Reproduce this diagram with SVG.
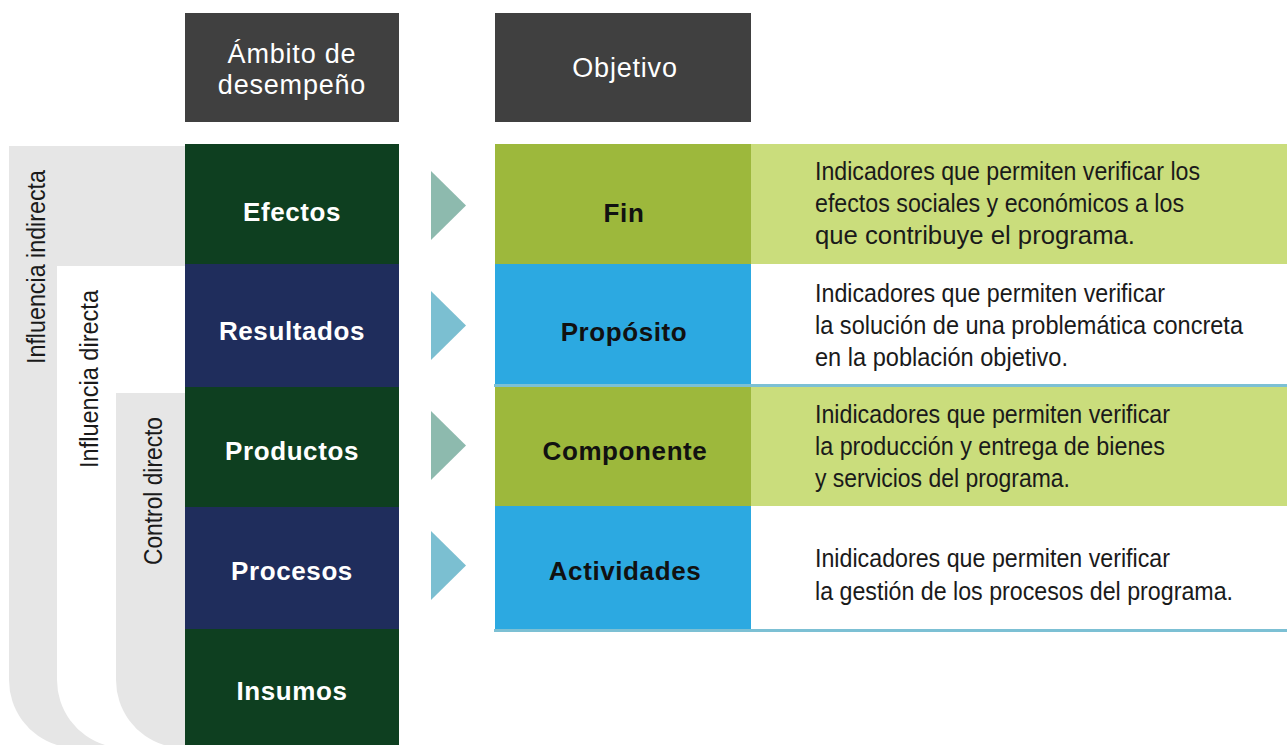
<svg xmlns="http://www.w3.org/2000/svg" width="1287" height="745" viewBox="0 0 1287 745">
<style>
.hdr{fill:#404040}
.ht{font-family:"Liberation Sans",Arial,sans-serif;font-size:27px;fill:#ffffff;text-anchor:middle;letter-spacing:0.8px}
.lbl{font-family:"Liberation Sans",Arial,sans-serif;font-size:26px;font-weight:bold;fill:#ffffff;text-anchor:middle;letter-spacing:0.6px}
.obj{font-family:"Liberation Sans",Arial,sans-serif;font-size:26px;font-weight:bold;fill:#111111;text-anchor:middle;letter-spacing:0.6px}
.desc{font-family:"Liberation Sans",Arial,sans-serif;font-size:25px;fill:#1a1a1a}
.vt{font-family:"Liberation Sans",Arial,sans-serif;font-size:25px;fill:#1a1a1a;text-anchor:middle}
.green{fill:#0E3F20}
.navy{fill:#1F2D5C}
.olive{fill:#9DB83C}
.lgreen{fill:#CADD7C}
.blue{fill:#2CA9E1}
.sep{fill:#7CC0D4}
.triA{fill:#8DBAAE}
.triB{fill:#7BBFD1}
.band{fill:#E6E6E6}
</style>

<g id="bands">
  <path class="band" d="M9,146 L9,680 A68,68 0 0 0 57,745 L185,745 L185,146 Z"/>
  <path fill="#ffffff" d="M57,266 L57,680 A68,68 0 0 0 105,745 L185,745 L185,266 Z"/>
  <path class="band" d="M116,393 L116,680 A68,68 0 0 0 164,745 L185,745 L185,393 Z"/>
  <text class="vt" transform="translate(45,267) rotate(-90)" textLength="194" lengthAdjust="spacingAndGlyphs">Influencia indirecta</text>
  <text class="vt" transform="translate(98,379) rotate(-90)" textLength="178" lengthAdjust="spacingAndGlyphs">Influencia directa</text>
  <text class="vt" transform="translate(162,491) rotate(-90)" textLength="148" lengthAdjust="spacingAndGlyphs">Control directo</text>
</g>

<g id="header-ambito">
  <rect class="hdr" x="185" y="13" width="214" height="109"/>
  <text class="ht" x="292" y="63">Ámbito de</text>
  <text class="ht" x="292" y="94">desempeño</text>
</g>
<g id="header-objetivo">
  <rect class="hdr" x="495" y="13" width="256" height="109"/>
  <text class="ht" x="625" y="77">Objetivo</text>
</g>

<g id="efectos">
  <rect class="green" x="185" y="144" width="214" height="120"/>
  <text class="lbl" x="292" y="221">Efectos</text>
</g>
<g id="resultados">
  <rect class="navy" x="185" y="264" width="214" height="123"/>
  <text class="lbl" x="292" y="340">Resultados</text>
</g>
<g id="productos">
  <rect class="green" x="185" y="387" width="214" height="120"/>
  <text class="lbl" x="292" y="460">Productos</text>
</g>
<g id="procesos">
  <rect class="navy" x="185" y="507" width="214" height="122"/>
  <text class="lbl" x="292" y="580">Procesos</text>
</g>
<g id="insumos">
  <rect class="green" x="185" y="629" width="214" height="116"/>
  <text class="lbl" x="292" y="700">Insumos</text>
</g>

<g id="connectors">
  <polygon class="triA" points="431,171 466,205.5 431,240"/>
  <polygon class="triB" points="431,291 466,325.5 431,360"/>
  <polygon class="triA" points="431,411 466,445.5 431,480"/>
  <polygon class="triB" points="431,531 466,565.5 431,600"/>
</g>

<g id="fin">
  <rect class="olive" x="495" y="144" width="256" height="120"/>
  <rect class="lgreen" x="751" y="144" width="536" height="120"/>
  <text class="obj" x="624" y="222">Fin</text>
  <text class="desc" x="815" y="180" textLength="385" lengthAdjust="spacingAndGlyphs">Indicadores que permiten verificar los</text>
  <text class="desc" x="815" y="212" textLength="369" lengthAdjust="spacingAndGlyphs">efectos sociales y económicos a los</text>
  <text class="desc" x="815" y="244" textLength="320" lengthAdjust="spacingAndGlyphs">que contribuye el programa.</text>
</g>
<g id="proposito">
  <rect class="blue" x="495" y="264" width="256" height="120"/>
  <text class="obj" x="624" y="341">Propósito</text>
  <text class="desc" x="815" y="302" textLength="350" lengthAdjust="spacingAndGlyphs">Indicadores que permiten verificar</text>
  <text class="desc" x="815" y="334" textLength="428" lengthAdjust="spacingAndGlyphs">la solución de una problemática concreta</text>
  <text class="desc" x="815" y="366" textLength="253" lengthAdjust="spacingAndGlyphs">en la población objetivo.</text>
</g>
<rect class="sep" x="494" y="384" width="793" height="3"/>
<g id="componente">
  <rect class="olive" x="495" y="387" width="256" height="119"/>
  <rect class="lgreen" x="751" y="387" width="536" height="119"/>
  <text class="obj" x="625" y="460">Componente</text>
  <text class="desc" x="815" y="423" textLength="355" lengthAdjust="spacingAndGlyphs">Inidicadores que permiten verificar</text>
  <text class="desc" x="815" y="455" textLength="350" lengthAdjust="spacingAndGlyphs">la producción y entrega de bienes</text>
  <text class="desc" x="815" y="487" textLength="255" lengthAdjust="spacingAndGlyphs">y servicios del programa.</text>
</g>
<g id="actividades">
  <rect class="blue" x="495" y="506" width="256" height="123"/>
  <text class="obj" x="625" y="580">Actividades</text>
  <text class="desc" x="815" y="567" textLength="355" lengthAdjust="spacingAndGlyphs">Inidicadores que permiten verificar</text>
  <text class="desc" x="815" y="600" textLength="418" lengthAdjust="spacingAndGlyphs">la gestión de los procesos del programa.</text>
</g>
<rect class="sep" x="494" y="629" width="793" height="3"/>
</svg>
